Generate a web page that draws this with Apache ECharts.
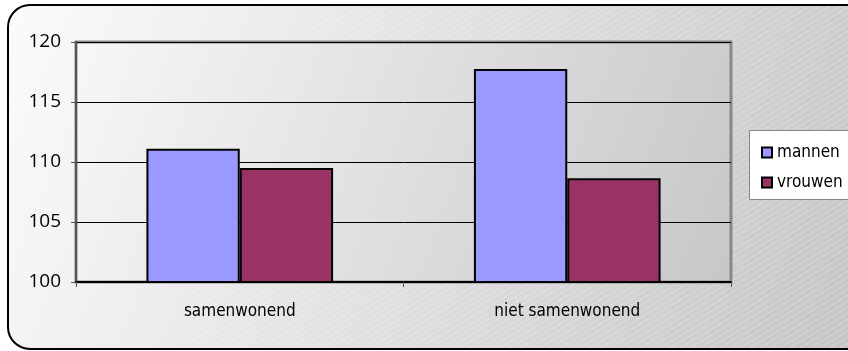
<!DOCTYPE html>
<html><head><meta charset="utf-8">
<script src="https://cdn.jsdelivr.net/npm/echarts@6/dist/echarts.min.js"></script>
<style>html,body{margin:0;padding:0;background:#fff}#c{width:848px;height:351px}</style>
</head><body><div id="c"></div>
<script>
const categories = ['samenwonend', 'niet samenwonend'];
const mannen = [111.1, 117.75];
const vrouwen = [109.5, 108.65];
const yMin = 100, yMax = 120, yStep = 5;

const FC = '"DejaVu Sans Condensed", "DejaVu Sans", sans-serif';
const FY = '"Open Sans", "Liberation Sans", sans-serif';

// hatch pattern
const pc = document.createElement('canvas');
pc.width = 10; pc.height = 6;
const px = pc.getContext('2d');
px.strokeStyle = 'rgba(255,255,255,0.3)';
px.lineWidth = 1;
px.beginPath(); px.moveTo(0, 6); px.lineTo(10, 0); px.stroke();
px.beginPath(); px.moveTo(-10, 6); px.lineTo(0, 0); px.stroke();
px.beginPath(); px.moveTo(10, 6); px.lineTo(20, 0); px.stroke();

const chart = echarts.init(document.getElementById('c'), null, {renderer: 'canvas'});
const barStyle = (c) => ({color: c, borderColor: '#000', borderWidth: 2});
chart.setOption({
  animation: false,
  graphic: [
    {type: 'rect', z: -10, shape: {x: 8, y: 5, width: 860, height: 344, r: 22},
     style: {fill: new echarts.graphic.LinearGradient(0, 0, 1, 1, [{offset: 0, color: '#fbfbfb'}, {offset: 1, color: '#c4c4c4'}]), stroke: '#000', lineWidth: 2}},
    {type: 'rect', z: -9, shape: {x: 9, y: 6, width: 858, height: 342, r: 21},
     style: {fill: {image: pc, repeat: 'repeat'}, stroke: null}},
    {type: 'rect', z: 5, shape: {x: 749.5, y: 130.5, width: 110, height: 69},
     style: {fill: '#fff', stroke: '#888', lineWidth: 1}}
  ],
  legend: {
    orient: 'vertical', left: 756, top: 139, itemWidth: 10, itemHeight: 10, itemGap: 13,
    icon: 'rect', z: 10,
    textStyle: {fontFamily: FC, fontSize: 17, color: '#000', padding: [0, 0, 0, 0]},
    itemStyle: {borderColor: '#000', borderWidth: 2},
    data: ['mannen', 'vrouwen']
  },
  grid: {left: 76, right: 117, top: 42, bottom: 69, show: true,
    backgroundColor: new echarts.graphic.LinearGradient(0, 0, 1, 1, [{offset: 0, color: '#f7f7f7'}, {offset: 1, color: '#c7c7c7'}]),
    borderColor: '#888', borderWidth: 3},
  xAxis: {type: 'category', data: categories,
    axisLine: {lineStyle: {color: '#000', width: 2}},
    axisTick: {show: true, length: 5, lineStyle: {color: '#555', width: 1}},
    axisLabel: {margin: 21, fontFamily: FC, fontSize: 17, color: '#000'}},
  yAxis: {type: 'value', min: yMin, max: yMax, interval: yStep,
    axisLine: {show: true, lineStyle: {color: '#555', width: 2}},
    axisTick: {show: true, length: 5, lineStyle: {color: '#555'}},
    splitLine: {lineStyle: {color: '#000', width: 1}},
    axisLabel: {margin: 15, fontFamily: FY, fontSize: 19, color: '#000'}},
  series: [
    {name: 'mannen', type: 'bar', data: mannen, barGap: '0%', barCategoryGap: '43%', itemStyle: barStyle('#9999ff')},
    {name: 'vrouwen', type: 'bar', data: vrouwen, itemStyle: barStyle('#993366')}
  ]
});
</script></body></html>
